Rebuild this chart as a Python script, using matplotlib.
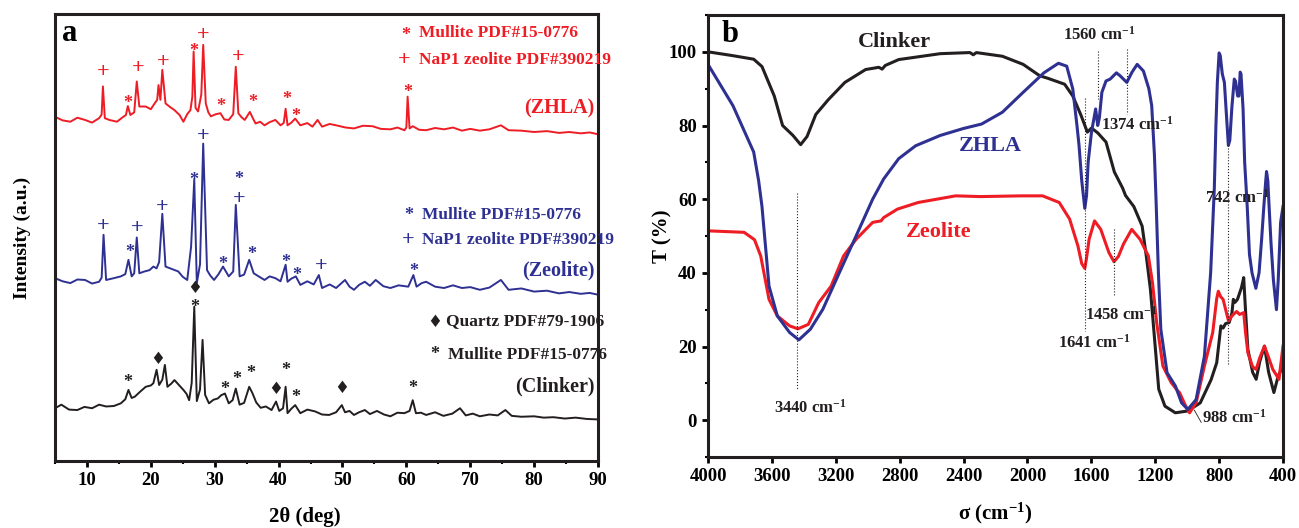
import matplotlib
matplotlib.use('Agg')
import matplotlib.pyplot as plt
from matplotlib.ticker import MultipleLocator

plt.rcParams['font.family'] = ['Liberation Serif', 'DejaVu Sans']
plt.rcParams['font.weight'] = 'bold'
plt.rcParams['axes.labelweight'] = 'bold'
plt.rcParams['mathtext.fontset'] = 'custom'
plt.rcParams['mathtext.rm'] = 'Liberation Serif:bold'
plt.rcParams['mathtext.bf'] = 'Liberation Serif:bold'
plt.rcParams['mathtext.it'] = 'Liberation Serif:bold:italic'

RED = '#ee1c24'
BLUE = '#2e3192'
BLACK = '#231f20'

# ---------------- XRD (panel a) ----------------
zhla_2t = [5.0, 6.2, 7.4, 8.5, 9.7, 10.8, 11.9, 12.3, 12.5, 12.8, 13.5, 14.7, 15.5, 16.1, 16.4, 16.8,
           17.4, 17.8, 18.2, 19.2, 20.0, 20.6, 21.0, 21.2, 21.5, 21.8, 22.3, 23.0, 23.7, 24.5, 25.1,
           25.7, 26.2, 26.5, 26.7, 27.0, 27.4, 27.9, 28.2, 28.6, 29.0, 29.4, 30.2, 30.9, 31.5, 32.2,
           32.9, 33.3, 33.7, 34.2, 34.7, 35.5, 36.0, 36.4, 37.1, 37.8, 38.6, 39.5, 40.3, 40.8, 41.1,
           41.4, 42.0, 42.6, 43.4, 44.5, 45.3, 46.1, 46.8, 48.0, 49.0, 50.5, 51.8, 53.2, 54.7, 56.0,
           57.5, 58.6, 59.7, 60.0, 60.2, 60.5, 61.0, 62.0, 63.1, 64.5, 65.9, 67.3, 68.7, 70.0, 71.5,
           73.0, 74.8, 76.0, 78.0, 80.0, 82.0, 83.9, 85.5, 87.3, 88.7, 90.0]
zhla_int = [77.0, 76.2, 75.9, 76.8, 76.3, 75.7, 76.7, 77.5, 83.8, 76.7, 76.3, 75.9, 76.8, 77.4, 79.4, 77.4,
            78.0, 84.9, 79.3, 79.3, 78.7, 80.0, 80.8, 84.1, 80.8, 87.5, 80.0, 79.2, 78.5, 77.4, 75.9,
            77.6, 78.5, 81.5, 91.6, 79.0, 78.2, 82.0, 93.1, 80.0, 78.0, 77.1, 77.6, 77.8, 76.4, 76.3,
            77.6, 88.2, 77.8, 76.9, 76.3, 78.1, 76.6, 75.5, 75.9, 75.1, 75.8, 76.3, 75.1, 75.6, 78.8,
            75.1, 75.7, 76.6, 75.1, 75.6, 74.8, 76.3, 74.8, 75.4, 75.1, 74.6, 74.4, 75.0, 74.9, 74.3,
            74.2, 74.6, 74.0, 74.6, 81.5, 74.4, 74.9, 74.1, 74.0, 74.5, 74.2, 74.6, 73.9, 74.3, 73.9,
            74.2, 75.1, 74.0, 73.9, 73.6, 73.8, 73.4, 73.6, 73.3, 73.5, 73.1]

zeo_2t = [5.0, 6.2, 7.4, 8.5, 9.7, 10.8, 11.9, 12.3, 12.6, 13.0, 14.2, 15.3, 16.0, 16.5, 17.0, 17.4,
          17.8, 18.2, 19.0, 19.8, 20.4, 20.9, 21.3, 21.8, 22.3, 23.2, 24.3, 25.0, 25.7, 26.3, 26.8,
          27.2, 27.7, 28.2, 28.8, 29.3, 29.9, 30.6, 31.3, 32.2, 32.9, 33.3, 33.9, 34.6, 35.4, 36.1,
          37.0, 37.8, 38.6, 39.5, 40.3, 41.1, 41.4, 42.0, 42.7, 43.4, 44.5, 45.5, 46.3, 46.8, 48.0,
          49.0, 50.4, 51.1, 51.8, 52.6, 53.5, 54.3, 55.2, 56.4, 57.5, 58.8, 60.3, 61.1, 61.6, 62.4,
          63.1, 64.5, 65.9, 67.3, 68.7, 70.0, 71.5, 73.0, 74.8, 76.0, 78.0, 80.0, 82.0, 83.9, 85.5,
          87.3, 88.7, 90.0]
zeo_int = [40.9, 40.2, 39.8, 40.6, 40.5, 39.7, 40.1, 41.0, 50.6, 40.5, 40.9, 41.3, 41.8, 45.0, 41.3, 42.0,
           50.0, 42.0, 42.4, 42.7, 43.5, 43.1, 44.5, 55.3, 43.5, 43.0, 42.4, 41.2, 40.5, 47.9, 63.0,
           39.8, 44.0, 71.0, 42.7, 41.5, 40.5, 41.8, 43.5, 41.3, 42.4, 57.3, 41.3, 41.7, 45.0, 42.0,
           41.2, 40.5, 41.3, 40.9, 40.2, 43.9, 40.1, 40.8, 41.3, 39.4, 40.2, 39.5, 41.6, 38.7, 39.5,
           38.7, 40.5, 39.0, 38.3, 39.4, 40.1, 39.2, 40.5, 39.1, 38.7, 39.3, 39.0, 41.6, 39.0, 39.8,
           40.1, 39.0, 38.7, 39.3, 38.7, 38.9, 38.3, 38.8, 40.5, 38.3, 38.6, 37.9, 38.1, 37.5, 37.8,
           37.4, 37.6, 37.2]

clk_2t = [5.0, 6.0, 7.2, 8.5, 9.6, 10.8, 11.9, 13.0, 14.2, 15.3, 16.0, 16.5, 17.0, 17.5, 18.4, 19.2,
          20.0, 20.4, 20.9, 21.3, 21.8, 22.2, 22.6, 23.2, 23.7, 24.4, 25.1, 25.6, 26.0, 26.4, 26.8,
          27.2, 27.7, 28.1, 28.5, 29.1, 29.8, 30.5, 31.0, 31.6, 32.2, 32.8, 33.3, 33.9, 34.6, 35.4,
          35.9, 36.5, 37.2, 38.0, 38.9, 39.6, 40.1, 40.7, 41.1, 41.4, 42.0, 42.6, 43.4, 44.5, 45.7,
          46.8, 47.9, 49.0, 49.9, 50.4, 51.1, 51.8, 52.6, 53.5, 54.3, 55.4, 56.5, 57.5, 58.6, 59.7,
          60.5, 61.0, 61.5, 62.3, 63.1, 64.5, 65.8, 67.2, 68.4, 69.3, 70.4, 71.5, 73.0, 74.3, 75.5,
          76.5, 78.0, 80.0, 81.5, 83.0, 84.8, 86.5, 88.3, 90.0]
clk_int = [11.8, 12.6, 11.5, 11.4, 12.1, 11.8, 12.6, 12.2, 12.3, 12.9, 13.8, 15.9, 14.1, 14.4, 15.6, 16.6,
           16.9, 17.4, 20.4, 17.0, 18.2, 21.5, 16.6, 17.3, 18.1, 17.0, 15.9, 15.0, 13.6, 17.5, 34.5,
           13.4, 16.0, 27.1, 14.8, 12.9, 13.7, 14.0, 14.7, 15.1, 12.9, 13.6, 16.2, 12.6, 13.0, 16.6,
           15.2, 13.1, 11.9, 12.2, 11.4, 13.3, 11.2, 11.8, 16.6, 10.7, 11.7, 12.5, 10.7, 11.5, 11.1,
           10.4, 10.3, 10.9, 12.5, 10.9, 11.2, 10.3, 10.9, 11.4, 10.5, 11.2, 10.4, 10.0, 10.8, 10.7,
           11.2, 13.6, 10.7, 10.8, 10.3, 10.9, 10.1, 10.6, 11.8, 10.2, 10.6, 10.0, 10.4, 10.2, 11.4,
           10.1, 9.9, 10.0, 9.7, 9.8, 9.5, 9.7, 9.4, 9.3]

# phase markers: (2theta, height)
zhla_plus = [(12.6, 87.1), (18.1, 88.0), (21.9, 89.3), (28.2, 95.3), (33.7, 90.3)]
zhla_star = [(16.4, 80.9), (26.7, 92.7), (30.9, 80.4), (36.0, 81.1), (41.2, 81.9), (42.7, 78.1), (60.2, 83.4)]
zeo_plus = [(12.6, 52.6), (17.9, 52.1), (21.8, 56.9), (28.2, 72.7), (33.9, 58.6), (46.6, 43.6)]
zeo_star = [(16.7, 47.6), (26.7, 63.8), (31.3, 45.0), (33.7, 64.0), (35.8, 47.2), (41.1, 45.3),
            (42.9, 42.4), (61.1, 43.5)]
clk_dia = [(21.1, 22.9), (26.9, 38.6), (39.6, 16.1), (49.9, 16.3)]
clk_star = [(16.4, 18.5), (26.8, 35.3), (31.6, 17.0), (33.4, 19.2), (35.7, 20.5), (41.1, 21.2),
            (42.7, 15.3), (61.0, 17.2)]

# ---------------- FTIR (panel b) ----------------
clk_wn = [4000, 3850, 3714, 3662, 3585, 3533, 3468, 3420, 3380, 3325, 3247, 3143, 3013, 2930, 2910,
          2890, 2806, 2546, 2360, 2339, 2320, 2157, 2027, 1923, 1871, 1767, 1716, 1664, 1625, 1599,
          1560, 1508, 1456, 1404, 1386, 1334, 1282, 1256, 1230, 1204, 1178, 1139, 1074, 996, 918,
          850, 815, 789, 775, 760, 737, 720, 711, 700, 685, 660, 646, 635, 620, 590, 568, 545, 516,
          490, 457, 430, 400]
clk_t = [100, 99.0, 98, 96, 88, 80, 77.3, 74.8, 77, 83, 87, 91.7, 95.2, 95.8, 95.3,
         96.3, 97.9, 99.5, 99.8, 99.2, 99.8, 98.8, 96.6, 93.5, 92.8, 91.2, 88, 82.7, 78.2, 79.3,
         78, 75.5, 67.4, 63, 61, 58, 52.7, 44.6, 35.5, 22, 8.4, 3.8, 2, 2.5, 4.7,
         11, 15.6, 25.6, 25.0, 26.2, 26.5, 29, 32.8, 32, 32.8, 36, 38.7, 30, 19.2, 13, 11.1, 16, 20.1,
         13, 7.5, 12, 14.7]

zhla_wn = [4000, 3844, 3714, 3683, 3662, 3618, 3566, 3489, 3431, 3359, 3281, 3177, 3073, 2969, 2900,
           2806, 2700, 2546, 2400, 2287, 2157, 2027, 1897, 1806, 1754, 1716, 1690, 1677, 1660, 1641,
           1630, 1620, 1599, 1573, 1560, 1550, 1534, 1508, 1482, 1443, 1420, 1378, 1345, 1313, 1274,
           1240, 1222, 1205, 1195, 1180, 1165, 1126, 1074, 1035, 996, 944, 892, 853, 830, 820, 811,
           800, 793, 780, 767, 750, 742, 733, 720, 705, 697, 684, 676, 668, 663, 650, 640, 624, 610,
           594, 570, 550, 534, 520, 508, 503, 495, 487, 475, 460, 441, 430, 415, 400]
zhla_t = [96.6, 85.4, 72.8, 65, 58, 36.4, 28.3, 23.8, 21.8, 24.7, 30.1, 40.1, 50, 60, 65.5,
          71, 74.5, 77.3, 79.2, 80.4, 83.6, 89, 94.3, 96.9, 96.1, 89.9, 80, 74.6, 65, 57.5,
          61, 70, 78.2, 84.5, 80, 82, 89, 92.1, 92.6, 94.3, 93.5, 91.7, 94.5, 96.6, 94.8,
          90, 85.4, 72, 60, 40, 24.7, 12.9, 9.3, 4.7, 2.9, 5.6, 17.4, 40, 63, 80, 91.7,
          99.7, 99, 94, 91.7, 80, 74.6, 76, 85, 92.6, 92, 88, 88, 94.5, 94, 84.5, 70, 58, 45,
          40, 35.8, 40, 49, 58, 65, 67.5, 65, 58, 48, 38, 30, 38, 53.7, 58]

zeo_wn = [4000, 3774, 3709, 3670, 3618, 3566, 3489, 3437, 3372, 3307, 3229, 3151, 3073, 2969, 2917,
          2900, 2814, 2684, 2450, 2294, 2035, 1905, 1801, 1736, 1684, 1660, 1641, 1630, 1614, 1580,
          1541, 1490, 1458, 1430, 1399, 1347, 1295, 1243, 1217, 1191, 1152, 1100, 1060, 1048, 1009,
          985, 944, 892, 840, 815, 805, 790, 775, 741, 725, 711, 690, 672, 646, 635, 620, 590, 568,
          545, 516, 490, 464, 425, 400]
zeo_t = [51.4, 51, 49, 44.6, 32.8, 28.3, 25.6, 24.8, 26, 31.9, 36.4, 44.6, 49.1, 53.7, 54.1,
         55, 57.3, 59.1, 60.9, 60.7, 60.9, 60.9, 59.1, 54.6, 47.3, 42.5, 41.2, 44, 49.1, 54.1,
         51.8, 45.5, 43, 44.5, 47.8, 51.8, 49.1, 44.6, 37.3, 26.5, 14.7, 10.2, 8, 7.5, 3.8,
         2, 4.7, 14.7, 23.8, 33, 35, 33.5, 32.8, 26.9, 28, 28.7, 29.5, 28.7, 29.2, 24, 18.3, 14.5, 13.8,
         17, 20.1, 17, 13.8, 11.1, 20.1]

# band marks: (wavenumber, T from, T to)
band_lines = [(3440, 61.8, 8.4), (1641, 87.6, 24.2), (1458, 51.8, 33.7), (1560, 100.2, 87.2),
              (1374, 100.8, 83.1), (742, 74.6, 15.2)]
band_labels = [('3440', 3359, 3.4), ('1641', 1580, 20.9), ('1458', 1412, 28.7), ('1560', 1552, 104.7),
               ('1374', 1313, 80.2), ('742', 685, 60.5)]

fig = plt.figure(figsize=(12.99, 5.28), dpi=100)
axa = fig.add_axes([55/1299, 1-461/528, 543/1299, 447/528])
axb = fig.add_axes([708/1299, 1-457/528, 575/1299, 442/528])

# ---- panel a ----
axa.plot(zhla_2t, zhla_int, color=RED, lw=1.4)
axa.plot(zeo_2t, zeo_int, color=BLUE, lw=1.4)
axa.plot(clk_2t, clk_int, color=BLACK, lw=1.4)

def mark(ax, pts, sym, color, size, dy=0.0, **kw):
    for x, y in pts:
        ax.text(x, y + dy, sym, color=color, fontsize=size, ha='center', va='center', **kw)

mark(axa, zhla_plus, '+', RED, 16)
mark(axa, zhla_star, '*', RED, 13, dy=-1.0)
mark(axa, zeo_plus, '+', BLUE, 16)
mark(axa, zeo_star, '*', BLUE, 13, dy=-1.0)
mark(axa, clk_dia, '\u2666', BLACK, 12, family='DejaVu Sans')
mark(axa, clk_star, '*', BLACK, 13, dy=-1.0)

# legends written as text
axa.text(59.9, 95.2, '*', color=RED, fontsize=13, ha='center', va='center')
axa.text(62.0, 95.7, 'Mullite PDF#15-0776', color=RED, fontsize=12.5, va='center')
axa.text(59.7, 89.7, '+', color=RED, fontsize=16, ha='center', va='center')
axa.text(62.0, 89.7, 'NaP1 zeolite PDF#390219', color=RED, fontsize=12.5, va='center')
axa.text(89.5, 78.9, '(ZHLA)', color=RED, fontsize=14.5, ha='right', va='center')

axa.text(60.3, 54.9, '*', color=BLUE, fontsize=13, ha='center', va='center')
axa.text(62.5, 55.0, 'Mullite PDF#15-0776', color=BLUE, fontsize=12.5, va='center')
axa.text(60.3, 49.4, '+', color=BLUE, fontsize=16, ha='center', va='center')
axa.text(62.5, 49.4, 'NaP1 zeolite PDF#390219', color=BLUE, fontsize=12.5, va='center')
axa.text(89.5, 42.7, '(Zeolite)', color=BLUE, fontsize=14.5, ha='right', va='center')

axa.text(64.5, 31.2, '\u2666', color=BLACK, fontsize=12, ha='center', va='center', family='DejaVu Sans')
axa.text(66.2, 31.2, 'Quartz PDF#79-1906', color=BLACK, fontsize=12.5, va='center')
axa.text(64.5, 23.8, '*', color=BLACK, fontsize=13, ha='center', va='center')
axa.text(66.5, 23.7, 'Mullite PDF#15-0776', color=BLACK, fontsize=12.5, va='center')
axa.text(89.5, 16.6, '(Clinker)', color=BLACK, fontsize=14.5, ha='right', va='center')

axa.text(7.35, 95.6, 'a', fontsize=22, ha='center', va='center')

axa.set_xlim(5, 90)
axa.set_ylim(0, 100)
axa.set_yticks([])
axa.xaxis.set_major_locator(MultipleLocator(10))
axa.xaxis.set_minor_locator(MultipleLocator(5))
axa.set_xlabel('2\u03b8 (deg)', fontsize=15)
axa.xaxis.set_label_coords(0.46, -0.103)
axa.set_ylabel('Intensity (a.u.)', fontsize=14)
axa.yaxis.set_label_coords(-0.045, 0.5)

# ---- panel b ----
axb.plot(clk_wn, clk_t, color=BLACK, lw=2.2)
axb.plot(zeo_wn, zeo_t, color=RED, lw=2.2)
axb.plot(zhla_wn, zhla_t, color=BLUE, lw=2.2)

for wn, t0, t1 in band_lines:
    axb.plot([wn, wn], [t0, t1], color=BLACK, lw=0.8, ls=':')
for lab, wn, t in band_labels:
    axb.text(wn, t, lab + ' cm$^{-1}$', fontsize=12, ha='center', va='center', color=BLACK)
axb.plot([955, 912], [2.7, -0.6], color=BLACK, lw=0.6)
axb.text(908, 0.7, '988 cm$^{-1}$', fontsize=12, ha='left', va='center', color=BLACK)

axb.text(2832, 102.6, 'Clinker', fontsize=16, ha='center', va='center', color=BLACK)
axb.text(2235, 74.4, 'ZHLA', fontsize=16, ha='center', va='center', color=BLUE)
axb.text(2554, 51.1, 'Zeolite', fontsize=16, ha='center', va='center', color=RED)
axb.text(3865, 104.7, 'b', fontsize=22, ha='center', va='center')

axb.set_xlim(4000, 400)
axb.set_ylim(-10, 110)
axb.set_xticks([4000, 3600, 3200, 2800, 2400, 2000, 1600, 1200, 800, 400])
axb.set_yticks([0, 20, 40, 60, 80, 100])
axb.yaxis.set_minor_locator(MultipleLocator(10))
axb.set_xlabel('\u03c3 (cm$^{-1}$)', fontsize=15)
axb.xaxis.set_label_coords(0.5, -0.098)
axb.set_ylabel('T (%)', fontsize=15)
axb.yaxis.set_label_coords(-0.062, 0.5)

for ax in (axa, axb):
    for s in ax.spines.values():
        s.set_linewidth(2.2)
        s.set_color(BLACK)
    ax.tick_params(which='major', direction='out', length=4, width=2, labelsize=13.5, pad=4)
    ax.tick_params(which='minor', direction='out', length=2.5, width=1.5)

fig.savefig('out.png', dpi=100)
